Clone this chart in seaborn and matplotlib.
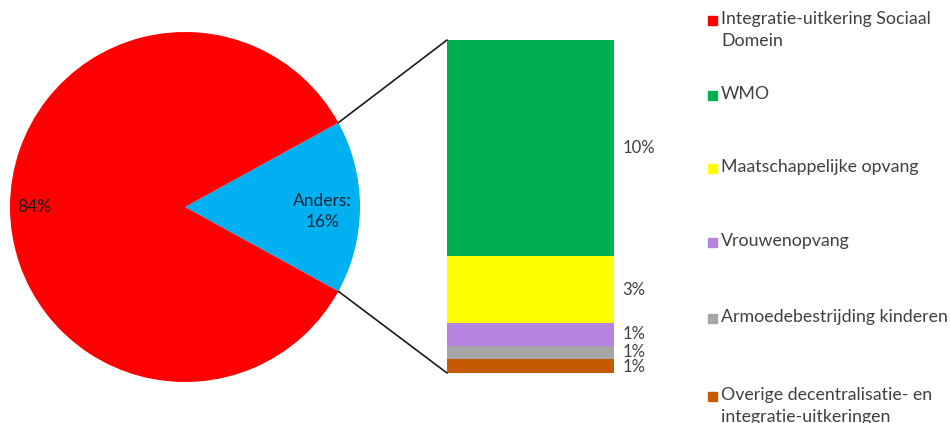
import matplotlib
matplotlib.use("Agg")
import matplotlib.pyplot as plt
import seaborn as sns
import numpy as np
from matplotlib.patches import ConnectionPatch, Rectangle

# ---- data ----
pie_labels = ["Anders", "Integratie-uitkering Sociaal Domein"]
pie_values = [16, 84]
pie_colors = ["#00b0f0", "#ff0000"]

bar_categories = ["WMO", "Maatschappelijke opvang", "Vrouwenopvang",
                  "Armoedebestrijding kinderen",
                  "Overige decentralisatie- en integratie-uitkeringen"]
bar_values = [10.4, 3.2, 1.1, 0.65, 0.65]
bar_labels = ["10%", "3%", "1%", "1%", "1%"]
bar_colors = ["#00b050", "#ffff00", "#b484e0", "#a6a6a6", "#c65a00"]

legend_labels = ["Integratie-uitkering Sociaal\nDomein", "WMO", "Maatschappelijke opvang",
                 "Vrouwenopvang", "Armoedebestrijding kinderen",
                 "Overige decentralisatie- en\nintegratie-uitkeringen"]
legend_colors = ["#ff0000", "#00b050", "#ffff00", "#b484e0", "#a6a6a6", "#c65a00"]

sns.set_theme(style="white")
plt.rcParams["font.family"] = ["Lato", "DejaVu Sans"]

W, H = 950, 423
fig = plt.figure(figsize=(W / 100, H / 100), dpi=100)

def px_axes(x0, y0, x1, y1):
    return fig.add_axes([x0 / W, 1 - y1 / H, (x1 - x0) / W, (y1 - y0) / H])

# ---- pie ----
ax_pie = px_axes(10, 32, 360, 382)
angle = pie_values[0] / sum(pie_values) * 360
wedges, _ = ax_pie.pie(pie_values, colors=pie_colors, startangle=-angle / 2,
                       counterclock=True, radius=1,
                       wedgeprops=dict(edgecolor="none", linewidth=0))
ax_pie.set_xlim(-1, 1)
ax_pie.set_ylim(-1, 1)
ax_pie.set_aspect("equal")
ax_pie.axis("off")
ax_pie.text(-0.86, 0.0, f"{pie_values[1]}%", fontsize=12.5, color="#1a1a1a",
            ha="center", va="center")
ax_pie.text(0.785, -0.025, f"{pie_labels[0]}:\n{pie_values[0]}%", fontsize=12.5,
            color="#10263a", ha="center", va="center", linespacing=1.35)

# ---- stacked bar ----
ax_bar = px_axes(447, 40, 614, 373)
total = sum(bar_values)
bottom = total
label_offsets = [0, 0, 0.0, 0.05, -0.05]
for v, c, lab, off in zip(bar_values, bar_colors, bar_labels, label_offsets):
    bottom -= v
    ax_bar.bar(0.5, v, bottom=bottom, width=1.0, color=c, edgecolor="none")
    ax_bar.text(1.05, bottom + v / 2 + off, lab, fontsize=12, color="#404040",
                ha="left", va="center", transform=ax_bar.get_yaxis_transform())
ax_bar.set_xlim(0, 1)
ax_bar.set_ylim(0, total)
ax_bar.axis("off")

# ---- connecting lines ----
theta = np.deg2rad(angle / 2)
for sign, yb in [(1, total), (-1, 0)]:
    con = ConnectionPatch(xyA=(np.cos(theta), sign * np.sin(theta)), coordsA=ax_pie.transData,
                          xyB=(0, yb), coordsB=ax_bar.transData,
                          color="#1a1a1a", linewidth=1.2)
    fig.add_artist(con)

# ---- legend ----
leg_y = [20, 95, 168, 242, 318, 396]
for lab, c, y in zip(legend_labels, legend_colors, leg_y):
    fig.add_artist(Rectangle((708 / W, 1 - (y + 5) / H), 9 / W, 9 / H,
                             transform=fig.transFigure, color=c))
    fig.text(721 / W, 1 - (y - 9) / H, lab, fontsize=12.8, color="#404040",
             ha="left", va="top", linespacing=1.45)

fig.savefig("out.png", dpi=100, facecolor="white")
